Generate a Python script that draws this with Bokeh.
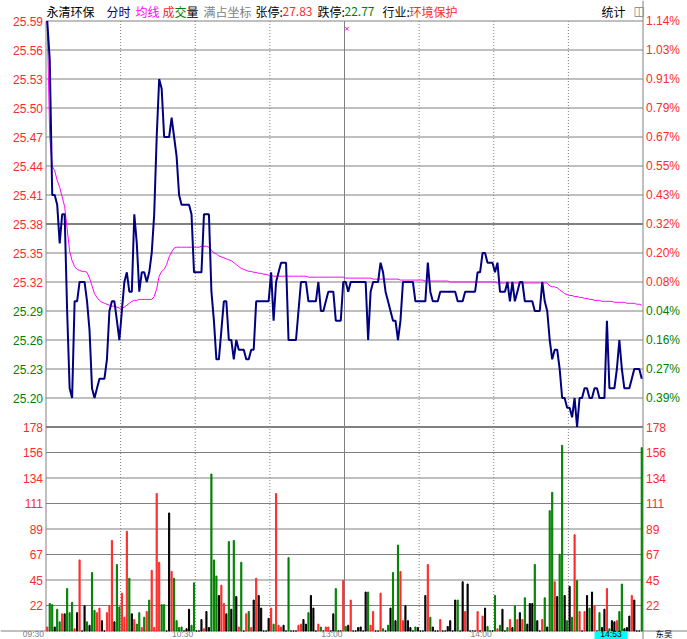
from bokeh.plotting import figure
from bokeh.models import Range1d
from bokeh.core.properties import value
from bokeh.embed import file_html
from bokeh.resources import INLINE

# ---------------- data ----------------
PREV_CLOSE = 25.30
MINUTES = list(range(240))

PRICE = [
    25.59, 25.55, 25.41, 25.41, 25.40, 25.36, 25.39, 25.39, 25.29, 25.21,
    25.20, 25.30, 25.30, 25.32, 25.32, 25.32, 25.30, 25.27, 25.21, 25.20,
    25.21, 25.22, 25.22, 25.22, 25.24, 25.29, 25.30, 25.30, 25.28, 25.26,
    25.29, 25.32, 25.33, 25.31, 25.31, 25.39, 25.36, 25.31, 25.33, 25.33,
    25.32, 25.33, 25.35, 25.39, 25.47, 25.53, 25.52, 25.47, 25.47, 25.47,
    25.49, 25.47, 25.45, 25.41, 25.40, 25.40, 25.40, 25.40, 25.39, 25.33,
    25.33, 25.33, 25.33, 25.39, 25.39, 25.39, 25.31, 25.28, 25.24, 25.24,
    25.27, 25.30, 25.30, 25.26, 25.26, 25.24, 25.26, 25.25, 25.25, 25.25,
    25.24, 25.24, 25.25, 25.25, 25.30, 25.30, 25.30, 25.30, 25.30, 25.30,
    25.33, 25.28, 25.32, 25.33, 25.34, 25.34, 25.34, 25.26, 25.26, 25.26,
    25.26, 25.29, 25.32, 25.32, 25.32, 25.30, 25.30, 25.30, 25.30, 25.32,
    25.29, 25.29, 25.30, 25.31, 25.31, 25.31, 25.28, 25.28, 25.28, 25.32,
    25.32, 25.31, 25.32, 25.32, 25.32, 25.32, 25.32, 25.32, 25.32, 25.26,
    25.31, 25.32, 25.32, 25.32, 25.34, 25.33, 25.31, 25.30, 25.29, 25.28,
    25.28, 25.26, 25.28, 25.32, 25.32, 25.32, 25.32, 25.32, 25.30, 25.30,
    25.30, 25.30, 25.30, 25.34, 25.31, 25.30, 25.30, 25.30, 25.31, 25.31,
    25.31, 25.31, 25.31, 25.31, 25.31, 25.30, 25.30, 25.30, 25.31, 25.31,
    25.31, 25.31, 25.31, 25.33, 25.33, 25.35, 25.35, 25.34, 25.34, 25.34,
    25.33, 25.34, 25.31, 25.31, 25.31, 25.32, 25.30, 25.32, 25.30, 25.31,
    25.32, 25.32, 25.30, 25.30, 25.30, 25.30, 25.29, 25.29, 25.29, 25.32,
    25.30, 25.29, 25.26, 25.24, 25.25, 25.25, 25.23, 25.20, 25.20, 25.19,
    25.19, 25.18, 25.20, 25.17, 25.20, 25.20, 25.21, 25.21, 25.20, 25.20,
    25.21, 25.21, 25.20, 25.20, 25.20, 25.28, 25.21, 25.21, 25.21, 25.23,
    25.26, 25.23, 25.21, 25.21, 25.21, 25.22, 25.23, 25.23, 25.23, 25.22,
]

AVG = [
    25.590, 25.470, 25.440, 25.435, 25.425, 25.418, 25.408, 25.398, 25.375, 25.352,
    25.342, 25.336, 25.333, 25.332, 25.331, 25.331, 25.330, 25.324, 25.316, 25.308,
    25.304, 25.301, 25.299, 25.298, 25.297, 25.296, 25.295, 25.295, 25.294, 25.293,
    25.293, 25.294, 25.296, 25.298, 25.300, 25.301, 25.301, 25.302, 25.302, 25.302,
    25.302, 25.302, 25.302, 25.305, 25.313, 25.326, 25.331, 25.333, 25.338, 25.346,
    25.351, 25.355, 25.356, 25.356, 25.356, 25.356, 25.356, 25.356, 25.356, 25.356,
    25.356, 25.356, 25.357, 25.357, 25.357, 25.356, 25.353, 25.350, 25.349, 25.347,
    25.346, 25.345, 25.344, 25.343, 25.342, 25.340, 25.338, 25.336, 25.334, 25.333,
    25.332, 25.331, 25.331, 25.330, 25.330, 25.329, 25.329, 25.328, 25.328, 25.327,
    25.327, 25.326, 25.326, 25.326, 25.326, 25.326, 25.326, 25.326, 25.326, 25.326,
    25.326, 25.326, 25.326, 25.326, 25.326, 25.325, 25.325, 25.325, 25.325, 25.325,
    25.325, 25.325, 25.325, 25.325, 25.325, 25.325, 25.325, 25.325, 25.325, 25.325,
    25.324, 25.324, 25.324, 25.324, 25.324, 25.324, 25.324, 25.324, 25.324, 25.324,
    25.324, 25.323, 25.323, 25.323, 25.323, 25.323, 25.323, 25.323, 25.323, 25.323,
    25.323, 25.323, 25.322, 25.322, 25.322, 25.322, 25.322, 25.322, 25.322, 25.322,
    25.322, 25.322, 25.321, 25.321, 25.321, 25.321, 25.321, 25.321, 25.321, 25.321,
    25.321, 25.321, 25.320, 25.320, 25.320, 25.320, 25.320, 25.320, 25.320, 25.320,
    25.320, 25.320, 25.320, 25.320, 25.320, 25.320, 25.320, 25.320, 25.320, 25.320,
    25.320, 25.319, 25.319, 25.319, 25.319, 25.319, 25.319, 25.319, 25.319, 25.319,
    25.319, 25.319, 25.319, 25.319, 25.319, 25.319, 25.319, 25.319, 25.319, 25.319,
    25.319, 25.319, 25.316, 25.315, 25.315, 25.314, 25.312, 25.310, 25.308, 25.307,
    25.306, 25.306, 25.305, 25.305, 25.304, 25.304, 25.303, 25.303, 25.302, 25.302,
    25.301, 25.301, 25.301, 25.300, 25.300, 25.300, 25.300, 25.300, 25.299, 25.299,
    25.299, 25.299, 25.299, 25.298, 25.298, 25.298, 25.298, 25.297, 25.297, 25.296,
]

VOLUME = [
    3.5, 24, 23, 3.5, 19, 8, 15, 15, 37, 16,
    25, 2, 16, 62, 0, 22, 8, 5, 51, 18,
    16, 20, 9, 0, 16, 22, 79, 8, 58, 21,
    33, 12, 87, 46, 15, 10, 6, 16, 3, 12,
    17, 27, 53, 3, 120, 60, 23, 23, 0, 103,
    52, 46, 9, 3, 3.5, 0, 2, 19, 5, 42,
    0, 0, 10, 2, 17, 3, 137, 62, 48, 31,
    40, 24, 15, 78, 19, 79, 30, 3.5, 60, 0,
    15, 17, 3, 27, 46, 31, 20, 0, 0, 11,
    20, 6, 120, 5, 3.5, 5, 0, 64, 0, 0,
    0, 5, 6, 10, 6, 16, 31, 20, 0, 6,
    3.5, 0, 3.5, 3.5, 0, 15, 37, 0, 0, 44,
    4, 5, 27, 0, 0, 3, 3.5, 0, 34, 34,
    5, 17, 0, 0, 33, 2, 0, 5, 20, 51,
    9, 75, 52, 9, 22, 9, 3, 0, 3.5, 3,
    0, 0, 31, 58, 12, 3.5, 0, 0, 10, 0,
    0, 4, 9, 0, 27, 27, 0, 43, 17, 41,
    0, 0, 0, 17, 0, 13, 20, 4, 0, 0,
    31, 2, 5, 19, 0, 3, 10, 3, 22, 10,
    16, 10, 29, 6, 24, 24, 58, 9, 0, 10,
    29, 3.5, 105, 121, 43, 30, 67, 162, 31, 9,
    39, 12, 84, 44, 17, 0, 17, 31, 20, 34,
    22, 0, 16, 3, 19, 37, 2, 9, 8, 9,
    17, 41, 2, 3, 13, 31, 27, 0, 0, 160,
]

# 1 = up (red), -1 = down (green), 0 = unchanged (black)
DIRECTION = [
    1, -1, -1, 0, -1, -1, 1, 0, -1, -1,
    -1, 1, 0, 1, 0, 0, -1, 0, -1, -1,
    1, 1, 0, 0, 1, 1, 1, 0, -1, -1,
    1, 1, 1, -1, 0, 1, -1, -1, 1, -1,
    1, -1, 1, 1, 1, 1, -1, -1, 0, 0,
    1, -1, -1, -1, -1, 0, 0, 0, -1, -1,
    0, 0, 0, 1, 0, 0, -1, -1, -1, 0,
    1, 1, 0, -1, 0, -1, 0, 1, -1, 0,
    1, -1, 1, 0, 1, 0, 0, 0, 0, 0,
    1, -1, 1, 1, 1, 0, 0, -1, 0, 0,
    0, 1, 1, 0, 0, -1, 0, 0, 0, 1,
    -1, 0, 1, 1, 0, 0, -1, 0, 0, 1,
    -1, 0, 1, 0, 0, 0, 0, 0, 0, -1,
    1, 1, 0, 0, 1, -1, 0, -1, 0, -1,
    0, -1, 1, 1, 0, 0, 0, 0, -1, 0,
    0, 0, 0, 1, -1, 0, 0, 0, 1, 0,
    0, 0, 0, 0, 0, -1, 0, 0, 1, 0,
    0, 0, 0, 1, 0, 1, 0, -1, 0, 0,
    -1, 1, -1, 0, 0, -1, 1, 0, -1, 1,
    0, 1, -1, 0, 0, 0, -1, 0, 0, 1,
    -1, 0, -1, -1, 1, 0, -1, -1, 0, -1,
    0, -1, 1, -1, 1, 0, 1, 0, -1, 0,
    1, 0, -1, 0, 0, 1, -1, 0, 0, 1,
    -1, -1, 0, 0, 0, 1, 0, 0, 0, -1,
]

PRICE_TICKS = [25.59, 25.56, 25.53, 25.50, 25.47, 25.44, 25.41,
               25.38, 25.35, 25.32, 25.29, 25.26, 25.23, 25.20]
PCT_LABELS = ["1.14%", "1.03%", "0.91%", "0.79%", "0.67%", "0.55%", "0.43%",
              "0.32%", "0.20%", "0.08%", "0.04%", "0.16%", "0.27%", "0.39%"]
PRICE_FLOOR = 25.17          # bottom of the price panel
MID_LINE = 25.38             # heavier grid line
VOL_MAX = 178
VOL_TICKS = [178, 155.75, 133.5, 111.25, 89, 66.75, 44.5, 22.25]
VOL_LABELS = ["178", "156", "134", "111", "89", "67", "45", "22"]
TIME_TICKS = [0, 60, 120, 180]
TIME_LABELS = ["09:30", "10:30", "13:00", "14:00"]
HALF_HOURS = [30, 60, 90, 150, 180, 210]
NOON = 120
CURSOR_LABEL = "14:53"
MARK_MIN = [121.0]
MARK_PRICE = [25.582]

# ---------------- layout ----------------
RED = "#ff2a2a"
GREEN = "#008000"
GRAY = "#808080"
NAVY = "#000080"
MAGENTA = "#ff00ff"

W, H = 687, 639
X0 = 45.5                 # page x of 09:30
PXM = 597 / 240.0         # px per minute
Y0 = 20.5                 # page y of top price line
PPP = 29 / 0.03           # px per price unit
P_TOP = PRICE_TICKS[0]
VY0 = 630.5               # page y of volume 0
VPX = (VY0 - (Y0 + (P_TOP - PRICE_FLOOR) * PPP)) / VOL_MAX


def mx(X):   # page x -> minutes
    return (X - X0) / PXM


def py(Y):   # page y -> price
    return P_TOP - (Y - Y0) / PPP


def vy(Y):   # page y -> volume
    return (VY0 - Y) / VPX


p = figure(width=W, height=H,
           x_range=Range1d(mx(0), mx(W)), y_range=Range1d(py(H), py(0)),
           output_backend="svg", toolbar_location=None,
           x_axis_location=None, y_axis_location=None,
           min_border=0, min_border_left=0, min_border_right=0,
           min_border_top=0, min_border_bottom=0,
           outline_line_color=None,
           background_fill_color="white", border_fill_color="white")
p.grid.visible = False
p.extra_y_ranges = {"vol": Range1d(vy(H), vy(0))}

P_BOTTOM = py(VY0)

# horizontal grid lines
p.segment(x0=0, x1=240, y0=PRICE_TICKS, y1=PRICE_TICKS, line_color=GRAY, line_width=1)
p.segment(x0=0, x1=240, y0=VOL_TICKS[1:], y1=VOL_TICKS[1:], line_color=GRAY,
          line_width=1, y_range_name="vol")
p.segment(x0=0, x1=240, y0=[MID_LINE, PRICE_FLOOR], y1=[MID_LINE, PRICE_FLOOR],
          line_color=GRAY, line_width=2)
# vertical time lines
p.segment(x0=HALF_HOURS, x1=HALF_HOURS, y0=P_TOP, y1=P_BOTTOM, line_color=GRAY,
          line_width=1, line_dash="1 2")
p.segment(x0=[NOON], x1=[NOON], y0=P_TOP, y1=P_BOTTOM, line_color=GRAY, line_width=1)
# frame borders
p.segment(x0=[0], x1=[0], y0=P_TOP, y1=P_BOTTOM, line_color=GRAY, line_width=1)
p.segment(x0=[240], x1=[240], y0=py(0), y1=py(H), line_color=GRAY, line_width=1)
p.segment(x0=mx(0), x1=mx(W), y0=[0], y1=[0], line_color=GRAY, line_width=1,
          y_range_name="vol")

# volume bars
xs = [m + 0.5 for m in MINUTES]
bar_colors = [RED if d > 0 else (GREEN if d < 0 else "black") for d in DIRECTION]
p.vbar(x=xs, top=VOLUME, bottom=0, width=0.45, color=bar_colors, y_range_name="vol")

# price + average
p.line(xs, AVG, color=MAGENTA, line_width=1)
p.line(xs, PRICE, color=NAVY, line_width=2)
p.scatter(MARK_MIN, MARK_PRICE, marker="x", size=5, color=MAGENTA, line_width=1)

NUM = value("Liberation Sans")
CJK = value("Noto Sans CJK SC")
FS = value("12px")
FS_SMALL = value("8.5px")

lcol = [RED if t > PREV_CLOSE else GREEN for t in PRICE_TICKS]
p.text(x=mx(42.5), y=PRICE_TICKS, text=["%.2f" % t for t in PRICE_TICKS], text_color=lcol,
       text_align="right", text_baseline="middle", text_font=NUM, text_font_size=FS)
p.text(x=mx(645.5), y=PRICE_TICKS, text=PCT_LABELS, text_color=lcol,
       text_align="left", text_baseline="middle", text_font=NUM, text_font_size=FS)
p.text(x=mx(42.5), y=VOL_TICKS, text=VOL_LABELS, text_color=RED, y_range_name="vol",
       text_align="right", text_baseline="middle", text_font=NUM, text_font_size=FS)
p.text(x=mx(645.5), y=VOL_TICKS, text=VOL_LABELS, text_color=RED, y_range_name="vol",
       text_align="left", text_baseline="middle", text_font=NUM, text_font_size=FS)

# time labels along the bottom strip
p.text(x=TIME_TICKS, y=vy(638), text=TIME_LABELS, text_color=GRAY, y_range_name="vol",
       text_align="right", text_baseline="bottom", text_font=NUM,
       text_font_size=FS_SMALL, x_offset=-2)
p.quad(left=mx(594), right=mx(627), top=vy(631), bottom=vy(H + 2), y_range_name="vol",
       fill_color="#00ffff", line_color=None)
p.text(x=mx(610.5), y=vy(638), text=[CURSOR_LABEL], text_color="black", y_range_name="vol",
       text_align="center", text_baseline="bottom", text_font=NUM,
       text_font_size=FS_SMALL)
p.text(x=mx(655), y=vy(638), text=["东吴"], text_color="black", y_range_name="vol",
       text_align="left", text_baseline="bottom", text_font=CJK,
       text_font_size=FS_SMALL)

# header
HEADER = [("永清环保", 46, "black"), ("分时", 106, NAVY), ("均线", 135, MAGENTA),
          ("成", 162, RED), ("交", 174, GREEN), ("量", 186, "black"),
          ("满占坐标", 203, GRAY), ("张停:", 255, "black"), ("27.83", 282, RED),
          ("跌停:", 317, "black"), ("22.77", 344, GREEN), ("行业:", 382, "black"),
          ("环境保护", 409, RED), ("统计", 601, "black")]
p.text(x=[mx(h[1]) for h in HEADER], y=py(10.5), text=[h[0] for h in HEADER],
       text_color=[h[2] for h in HEADER], text_align="left", text_baseline="middle",
       text_font=CJK, text_font_size=FS)
p.text(x=mx(633), y=py(10.5), text=["◫"], text_color=GRAY, text_align="left",
       text_baseline="middle", text_font=value("DejaVu Sans"), text_font_size=FS)

open("out.html", "w").write(file_html(p, INLINE))
